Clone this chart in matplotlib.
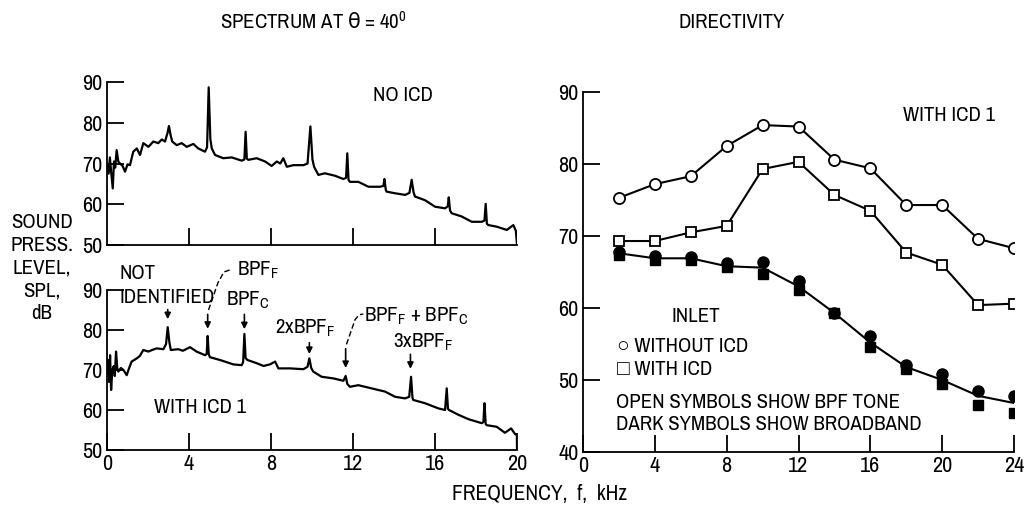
import matplotlib
matplotlib.use("Agg")
import matplotlib.pyplot as plt

plt.rcParams['font.family'] = ['Archivo Narrow', 'Liberation Sans', 'DejaVu Sans']
plt.rcParams['mathtext.default'] = 'regular'

# spectrum at 40 deg, no ICD (frequency kHz, SPL dB)
f_no_icd = [0.00, 0.08, 0.14, 0.20, 0.28, 0.34, 0.40, 0.47, 0.55, 0.63, 0.75, 0.88, 1.00, 1.12,
            1.28, 1.45, 1.61, 1.77, 2.02, 2.26, 2.50, 2.67, 2.83, 2.95, 3.02, 3.10, 3.18, 3.40,
            3.64, 3.89, 4.21, 4.45, 4.78, 4.88, 4.96, 5.04, 5.11, 5.27, 5.67, 6.08, 6.57, 6.70,
            6.76, 6.82, 6.89, 7.30, 7.71, 8.03, 8.28, 8.45, 8.60, 8.77, 9.09, 9.58, 9.78, 9.92,
            10.02, 10.10, 10.31, 10.63, 11.12, 11.53, 11.66, 11.72, 11.78, 11.85, 12.26, 12.75,
            13.32, 13.48, 13.53, 13.60, 13.64, 14.05, 14.54, 14.75, 14.86, 14.95, 15.02, 15.51,
            16.00, 16.49, 16.62, 16.67, 16.73, 16.81, 17.30, 17.79, 18.28, 18.41, 18.47, 18.53,
            18.60, 19.01, 19.50, 19.82, 19.94, 20.00]
spl_no_icd = [70.0, 67.5, 71.5, 68.0, 63.9, 70.5, 69.0, 73.3, 70.5, 70.0, 69.5, 68.0, 69.8, 69.6,
              72.9, 73.7, 72.1, 75.0, 74.1, 75.4, 75.0, 75.9, 75.4, 77.5, 79.2, 77.0, 75.4, 74.5,
              75.0, 74.1, 74.8, 73.7, 72.9, 74.0, 88.7, 76.0, 73.7, 72.1, 71.3, 71.5, 70.7, 71.0,
              77.8, 71.2, 70.9, 71.3, 70.5, 69.4, 70.5, 70.0, 71.3, 69.2, 69.6, 69.6, 70.0, 79.1,
              71.0, 69.2, 67.2, 67.6, 67.0, 66.2, 66.5, 72.5, 66.0, 65.5, 65.5, 64.3,
              64.3, 64.5, 66.2, 63.5, 63.1, 62.7, 62.3, 62.8, 66.0, 63.0, 61.9, 61.0,
              59.4, 59.0, 59.5, 61.7, 58.5, 57.8, 57.0, 55.7, 55.7, 56.0, 60.1, 55.2,
              54.9, 54.5, 53.7, 54.9, 53.5, 50.0]

# spectrum at 40 deg, with ICD 1
f_icd = [0.00, 0.06, 0.10, 0.15, 0.20, 0.26, 0.33, 0.38, 0.44, 0.50, 0.55, 0.68, 0.80, 0.96,
         1.08, 1.20, 1.45, 1.60, 1.77, 2.02, 2.20, 2.42, 2.75, 2.88, 2.96, 3.04, 3.11, 3.48,
         3.70, 4.05, 4.37, 4.78, 4.86, 4.91, 4.96, 5.02, 5.51, 6.16, 6.57, 6.64, 6.70, 6.76,
         6.85, 7.30, 7.63, 7.95, 8.20, 8.36, 8.93, 9.58, 9.78, 9.87, 9.96, 10.06, 10.47, 11.04,
         11.53, 11.64, 11.72, 11.85, 12.26, 12.91, 13.56, 14.05, 14.54, 14.74, 14.83, 14.90,
         14.94, 15.51, 16.16, 16.49, 16.57, 16.63, 16.68, 17.14, 17.63, 18.28, 18.36, 18.41,
         18.47, 18.52, 19.01, 19.41, 19.71, 19.90, 19.99, 20.00]
spl_icd = [69.2, 72.5, 67.0, 73.7, 65.0, 70.0, 71.0, 68.5, 74.6, 70.5, 69.6, 70.5, 70.0, 68.7,
           70.5, 72.1, 72.9, 73.5, 75.0, 74.6, 75.0, 75.4, 75.2, 76.5, 80.7, 77.0, 75.0, 75.2,
           74.8, 75.7, 74.6, 73.7, 74.0, 78.5, 74.0, 73.2, 72.5, 71.4, 71.2, 72.0, 79.0, 73.0,
           72.5, 71.7, 71.0, 71.4, 72.1, 70.4, 70.4, 70.2, 70.8, 72.9, 70.5, 69.6, 68.3, 67.9,
           67.3, 68.5, 66.5, 65.8, 66.2, 65.4, 64.6, 63.3, 62.9, 63.3, 68.3, 63.0,
           62.5, 61.7, 60.4, 60.0, 65.4, 60.3, 60.0, 58.8, 57.7, 56.7, 57.0, 61.7,
           56.5, 56.2, 55.8, 54.3, 55.4, 54.0, 53.7, 50.0]

# directivity, inlet
f_dir = [2, 4, 6, 8, 10, 12, 14, 16, 18, 20, 22, 24]
bpf_no_icd = [75.3, 77.2, 78.3, 82.5, 85.4, 85.2, 80.6, 79.4, 74.3, 74.3, 69.6, 68.3]
bpf_icd = [69.3, 69.3, 70.5, 71.4, 79.3, 80.3, 75.7, 73.5, 67.7, 66.0, 60.4, 60.6]
bb_no_icd = [67.8, 67.2, 67.1, 66.2, 66.4, 63.7, 59.3, 56.1, 52.1, 50.8, 48.4, 47.8]
bb_icd = [67.3, 66.6, 66.7, 65.7, 64.7, 62.5, 59.3, 54.6, 51.5, 49.4, 46.5, 45.4]
bb_fair = [67.6, 66.9, 66.9, 65.8, 65.6, 63.0, 59.3, 55.2, 51.8, 50.0, 47.8, 46.8]

FS = 15
fig = plt.figure(figsize=(10.31, 5.11), dpi=100)
ax1 = fig.add_axes([0.1038, 0.5205, 0.3977, 0.319])
ax2 = fig.add_axes([0.1038, 0.1194, 0.3977, 0.3131])
ax3 = fig.add_axes([0.5655, 0.1155, 0.418, 0.7045])

def style(ax):
    for s in ['top', 'right']:
        ax.spines[s].set_visible(False)
    ax.spines['left'].set_linewidth(1.3)
    ax.spines['bottom'].set_linewidth(1.3)
    ax.tick_params(direction='in', length=12, width=1.3, labelsize=16, pad=3)

# top spectrum
ax1.plot(f_no_icd, spl_no_icd, color='k', lw=1.6)
ax1.set_xlim(0, 20)
ax1.set_ylim(50, 90)
ax1.set_yticks([50, 60, 70, 80, 90])
ax1.set_xticks([4, 8, 12, 16])
ax1.set_xticklabels([])
style(ax1)
ax1.text(12.98, 86.6, 'NO ICD', fontsize=FS, ha='left', va='center')

# bottom spectrum
ax2.plot(f_icd, spl_icd, color='k', lw=1.6)
ax2.set_xlim(0, 20)
ax2.set_ylim(50, 90)
ax2.set_yticks([50, 60, 70, 80, 90])
ax2.set_xticks([0, 4, 8, 12, 16, 20])
style(ax2)
ax2.text(2.29, 60.5, 'WITH ICD 1', fontsize=FS, ha='left', va='center')

arr = dict(arrowstyle='-|>', color='k', lw=1.2, mutation_scale=9)
ax2.text(0.63, 94.2, 'NOT', fontsize=FS, ha='left', va='center')
ax2.text(0.63, 88.2, 'IDENTIFIED', fontsize=FS, ha='left', va='center')
ax2.annotate('', xy=(2.96, 82.0), xytext=(2.96, 85.8), arrowprops=arr)

ax2.plot([4.95, 5.41, 5.7, 6.1], [85.0, 91.8, 94.5, 95.2], 'k--', lw=1.0, clip_on=False, dashes=(4, 2))
ax2.text(6.34, 95.0, 'BPF$_F$', fontsize=FS, ha='left', va='center')
ax2.annotate('', xy=(4.91, 79.6), xytext=(4.91, 84.6), arrowprops=arr)

ax2.text(5.8, 87.5, 'BPF$_C$', fontsize=FS, ha='left', va='center')
ax2.annotate('', xy=(6.70, 79.5), xytext=(6.70, 84.6), arrowprops=arr)

ax2.text(8.2, 80.5, '2xBPF$_F$', fontsize=FS, ha='left', va='center')
ax2.annotate('', xy=(9.87, 73.3), xytext=(9.87, 77.5), arrowprops=arr)

ax2.plot([11.68, 12.1, 12.3, 12.5], [76.4, 82.6, 83.8, 84.0], 'k--', lw=1.0, clip_on=False, dashes=(4, 2))
ax2.text(12.54, 83.3, 'BPF$_F$ + BPF$_C$', fontsize=FS, ha='left', va='center')
ax2.annotate('', xy=(11.64, 69.8), xytext=(11.64, 76.0), arrowprops=arr)

ax2.text(13.95, 76.8, '3xBPF$_F$', fontsize=FS, ha='left', va='center')
ax2.annotate('', xy=(14.80, 69.6), xytext=(14.80, 74.6), arrowprops=arr)

# directivity
ax3.plot(f_dir, bb_fair, color='k', lw=1.5, zorder=2)
ax3.plot(f_dir, bpf_no_icd, color='k', lw=1.5, marker='o', ms=8, mfc='white', mec='k', mew=1.3, zorder=3)
ax3.plot(f_dir, bpf_icd, color='k', lw=1.5, marker='s', ms=7.5, mfc='white', mec='k', mew=1.3, zorder=3)
ax3.plot(f_dir, bb_no_icd, ls='none', marker='o', ms=8, color='k', zorder=4)
ax3.plot(f_dir, bb_icd, ls='none', marker='s', ms=7.5, color='k', zorder=4)
ax3.set_xlim(0, 24)
ax3.set_ylim(40, 90)
ax3.set_xticks([0, 4, 8, 12, 16, 20, 24])
ax3.set_yticks([40, 50, 60, 70, 80, 90])
style(ax3)

ax3.text(17.8, 86.8, 'WITH ICD 1', fontsize=FS, ha='left', va='center')
ax3.text(6.3, 58.75, 'INLET', fontsize=FS, ha='center', va='center')
ax3.text(1.9, 54.7, '\u25cb WITHOUT ICD', fontsize=FS, ha='left', va='center')
ax3.text(1.9, 51.4, '\u25a1 WITH ICD', fontsize=FS, ha='left', va='center')
ax3.text(1.85, 46.9, 'OPEN SYMBOLS SHOW BPF TONE', fontsize=FS, ha='left', va='center')
ax3.text(1.85, 43.75, 'DARK SYMBOLS SHOW BROADBAND', fontsize=FS, ha='left', va='center')

# titles and shared labels
fig.text(313 / 1031, 1 - 22 / 511, r'SPECTRUM AT $\mathrm{\theta}$ = 40$^0$', fontsize=15, ha='center', va='center')
fig.text(732 / 1031, 1 - 22 / 511, 'DIRECTIVITY', fontsize=15, ha='center', va='center')
fig.text(42 / 1031, 1 - 268 / 511, 'SOUND\nPRESS.\nLEVEL,\nSPL,\ndB', fontsize=FS, ha='center',
         va='center', linespacing=1.25, multialignment='center')
fig.text(540 / 1031, 1 - 494 / 511, 'FREQUENCY,  f,  kHz', fontsize=15.5, ha='center', va='center')

fig.savefig('out.png', dpi=100)
